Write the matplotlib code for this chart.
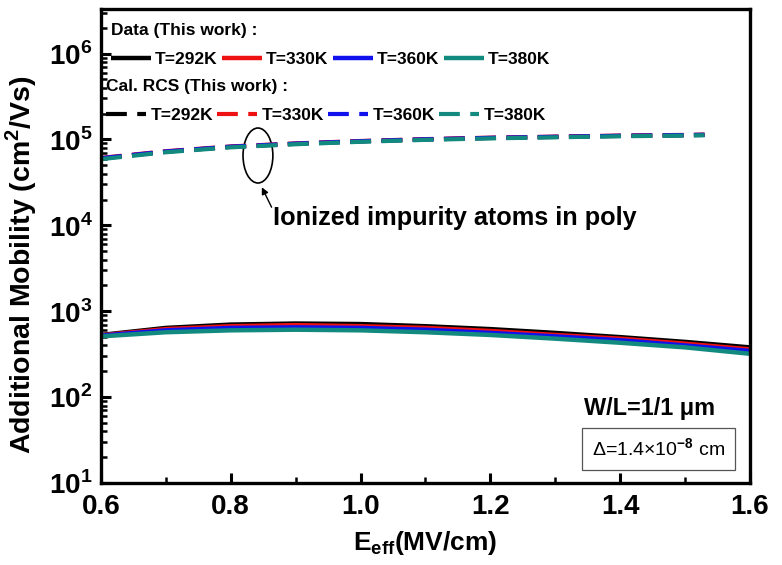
import numpy as np
import matplotlib.pyplot as plt
from matplotlib.patches import Ellipse

plt.rcParams['font.family'] = ['Liberation Sans', 'DejaVu Sans']
plt.rcParams['font.weight'] = 'bold'
plt.rcParams['axes.labelweight'] = 'bold'
plt.rcParams['mathtext.fontset'] = 'custom'
plt.rcParams['mathtext.rm'] = 'Liberation Sans:bold'
plt.rcParams['mathtext.bf'] = 'Liberation Sans:bold'
plt.rcParams['mathtext.sf'] = 'Liberation Sans'

# Measured additional mobility (cm^2/Vs) vs E_eff (MV/cm)
e_data = [0.6, 0.7, 0.8, 0.9, 1.0, 1.1, 1.2, 1.3, 1.4, 1.5, 1.6]
mu_292 = [530, 640, 700, 720, 710, 670, 620, 560, 500, 440, 380]
mu_330 = [525, 620, 670, 690, 670, 640, 590, 530, 480, 420, 360]
mu_360 = [520, 600, 640, 650, 640, 610, 560, 510, 460, 400, 345]
mu_380 = [510, 570, 600, 610, 600, 570, 530, 480, 430, 380, 320]

# Calculated RCS mobility (ionized impurity atoms in poly)
e_cal = [0.6, 0.7, 0.8, 0.9, 1.0, 1.1, 1.2, 1.3, 1.4, 1.5, 1.53]
rcs_292 = [60000, 72000, 82000, 89000, 95000, 100000, 104000, 107000, 110000, 112000, 113000]
rcs_330 = [61000, 73000, 83000, 90000, 96000, 101000, 105000, 108000, 111000, 113000, 114000]
rcs_360 = [60500, 72500, 82500, 89500, 95500, 100500, 104500, 107500, 110500, 112500, 113500]
rcs_380 = [59000, 71000, 81000, 88000, 94000, 99000, 103000, 106000, 109000, 111000, 112000]

temps = ['T=292K', 'T=330K', 'T=360K', 'T=380K']
colors = ['black', '#ee1111', '#1111ee', '#128a80']

fig = plt.figure(figsize=(7.82, 5.65), dpi=100)
ax = fig.add_axes([0.129, 0.145, 0.83, 0.839])

data_lines = []
for mu, c, t in zip([mu_292, mu_330, mu_360, mu_380], colors, temps):
    ln, = ax.plot(e_data, mu, color=c, lw=3.2, label=t, solid_capstyle='butt')
    data_lines.append(ln)

cal_lines = []
for mu, c, t in zip([rcs_292, rcs_330, rcs_360, rcs_380], colors, temps):
    ln, = ax.plot(e_cal, mu, color=c, lw=3.0, dashes=(5, 2.5), label=t)
    cal_lines.append(ln)

ax.set_yscale('log')
ax.set_xlim(0.6, 1.6)
ax.set_ylim(10, 3.3e6)
ax.set_xticks([0.6, 0.8, 1.0, 1.2, 1.4, 1.6])
ax.set_xticks(np.arange(0.7, 1.6, 0.2), minor=True)
ax.set_xticklabels(['0.6', '0.8', '1.0', '1.2', '1.4', '1.6'])
ax.set_yticks([1e1, 1e2, 1e3, 1e4, 1e5, 1e6])
ax.set_yticklabels(['$10^{%d}$' % k for k in range(1, 7)])

for s in ax.spines.values():
    s.set_linewidth(2.4)
ax.tick_params(which='major', direction='in', length=7, width=2.2, labelsize=20)
ax.tick_params(axis='x', which='major', pad=8)
ax.tick_params(axis='y', which='major', pad=6)
ax.tick_params(which='minor', direction='in', length=4, width=1.8)

ax.set_xlabel('E$_{\\mathregular{eff}}$(MV/cm)', fontsize=19, labelpad=6)
ax.set_ylabel('Additional Mobility (cm$^{2}$/Vs)', fontsize=20.5)
ax.yaxis.set_label_coords(-0.096, 0.46)

leg_kw = dict(ncol=4, frameon=False, fontsize=12.5, title_fontsize=12.5,
              handlelength=2.3, handletextpad=0.25, columnspacing=0.25,
              borderaxespad=0.2, alignment='left', borderpad=0.1, labelspacing=0.82)
leg1 = ax.legend(handles=data_lines, title='Data (This work) :',
                 loc='upper left', bbox_to_anchor=(0.007, 0.982), **leg_kw)
leg1.get_title().set_fontweight('bold')
ax.add_artist(leg1)
leg2 = ax.legend(handles=cal_lines, title='Cal. RCS (This work) :',
                 loc='upper left', bbox_to_anchor=(0.0, 0.864), **leg_kw)
leg2.get_title().set_fontweight('bold')

ax.add_patch(Ellipse((0.242, 0.691), 0.046, 0.116, transform=ax.transAxes,
                     fill=False, ec='black', lw=1.2))
ax.annotate('', xy=(0.248, 0.624), xycoords='axes fraction',
            xytext=(0.263, 0.582), textcoords='axes fraction',
            arrowprops=dict(arrowstyle='-|>', color='black', lw=1.0,
                            mutation_scale=10, shrinkA=0, shrinkB=0))
ax.text(0.265, 0.56, 'Ionized impurity atoms in poly', transform=ax.transAxes,
        fontsize=18.2, ha='left', va='center')

ax.text(0.946, 0.158, 'W/L=1/1 \u03bcm', transform=ax.transAxes, fontsize=16.9,
        ha='right', va='center')
ax.text(0.859, 0.072, '\u0394=1.4\u00d710$^{\\mathsf{-8}}$ cm', transform=ax.transAxes,
        fontsize=14, fontweight='normal', ha='center', va='center',
        bbox=dict(boxstyle='square,pad=0.5', fc='white', ec='#555555', lw=0.9))

fig.savefig('out.png', dpi=100)
